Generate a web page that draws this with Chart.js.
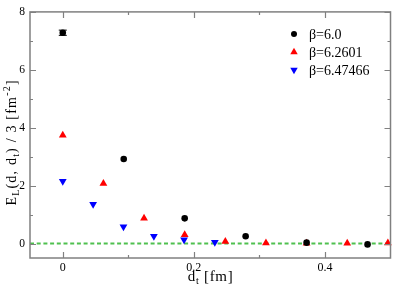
<!DOCTYPE html>
<html><head><meta charset="utf-8">
<script src="https://cdn.jsdelivr.net/npm/chart.js@4/dist/chart.umd.min.js"></script>
<style>html,body{margin:0;padding:0;background:#fff;}</style>
</head><body>
<canvas id="c" width="395" height="289"></canvas>
<script>
// ---- data ----
const seriesLabels = ['β=6.0', 'β=6.2601', 'β=6.47466'];
const blackX = [0, 0.093, 0.186, 0.279, 0.372, 0.465];
const blackY = [7.28, 2.92, 0.87, 0.25, 0.03, -0.03];
const blackErr = [0.09, 0, 0, 0, 0, 0];
const redX = [0, 0.062, 0.124, 0.186, 0.248, 0.310, 0.372, 0.434, 0.496];
const redY = [3.74, 2.07, 0.87, 0.30, 0.07, 0.02, 0.01, 0.01, 0.02];
const blueX = [0, 0.0463, 0.0926, 0.139, 0.185, 0.232];
const blueY = [2.15, 1.36, 0.58, 0.25, 0.13, 0.04];
const zeroLineX = [-0.05, 0.5];
const zeroLineY = [0, 0];
const xTickValues = [0, 0.2, 0.4];
const xMinorValues = [0.1, 0.3];
const yTickValues = [0, 2, 4, 6, 8];
const yMinorValues = [1, 3, 5, 7];
const xRange = [-0.05, 0.5];
const yRange = [-0.5, 8];

const FONT = "'Liberation Serif', 'DejaVu Serif', serif";
const pts = (xs, ys) => xs.map((x, i) => ({x: x, y: ys[i]}));

function shape(ctx, style, rot, r, x, y) {
  ctx.beginPath();
  if (style === 'circle') {
    ctx.arc(x, y, r, 0, Math.PI * 2);
  } else {
    let a = rot * Math.PI / 180;
    for (let k = 0; k < 3; k++) {
      const px = x + Math.sin(a) * r, py = y - Math.cos(a) * r;
      if (k === 0) ctx.moveTo(px, py); else ctx.lineTo(px, py);
      a += 2 * Math.PI / 3;
    }
    ctx.closePath();
  }
  ctx.fill();
}

// draws rich text (sub/superscripts) centred at (cx, baseline cy)
function renderRich(ctx, segs, size, cx, cy, target, maxExtra) {
  const chars = [];
  segs.forEach(s => {
    const fs = (s.sub || s.sup) ? Math.round(size * 0.68) : size;
    const dy = s.sub ? size * 0.22 : (s.sup ? -size * 0.42 : 0);
    for (const ch of s.t) {
      ctx.font = fs + 'px ' + FONT;
      chars.push({ch: ch, fs: fs, dy: dy, w: ctx.measureText(ch).width});
    }
  });
  const natural = chars.reduce((a, c) => a + c.w, 0);
  const extra = target ? Math.min(maxExtra, Math.max(0, (target - natural) / (chars.length - 1))) : 0;
  const total = natural + extra * (chars.length - 1);
  let x = cx - total / 2;
  ctx.fillStyle = '#000';
  ctx.textBaseline = 'alphabetic';
  ctx.textAlign = 'left';
  chars.forEach(c => {
    ctx.font = c.fs + 'px ' + FONT;
    ctx.fillText(c.ch, x, cy + c.dy);
    x += c.w + extra;
  });
}

const framePlugin = {
  id: 'frame',
  afterDatasetsDraw(chart) {
    const ctx = chart.ctx, a = chart.chartArea;
    const xs = chart.scales.x, ys = chart.scales.y;
    ctx.save();
    // error bars
    ctx.strokeStyle = '#000'; ctx.lineWidth = 1;
    blackErr.forEach((e, i) => {
      if (!e) return;
      const px = xs.getPixelForValue(blackX[i]);
      const y1 = ys.getPixelForValue(blackY[i] + e), y2 = ys.getPixelForValue(blackY[i] - e);
      ctx.beginPath();
      ctx.moveTo(px, y1); ctx.lineTo(px, y2);
      ctx.moveTo(px - 4, y1); ctx.lineTo(px + 4, y1);
      ctx.moveTo(px - 4, y2); ctx.lineTo(px + 4, y2);
      ctx.stroke();
    });
    // frame
    ctx.strokeStyle = '#808080'; ctx.lineWidth = 1.5;
    ctx.strokeRect(a.left, a.top, a.right - a.left, a.bottom - a.top);
    ctx.lineWidth = 1.2;
    ctx.beginPath();
    const tx = (vals, len) => vals.forEach(v => {
      const p = Math.round(xs.getPixelForValue(v)) + 0.5;
      ctx.moveTo(p, a.bottom); ctx.lineTo(p, a.bottom - len);
      ctx.moveTo(p, a.top); ctx.lineTo(p, a.top + len);
    });
    const ty = (vals, len) => vals.forEach(v => {
      const p = Math.round(ys.getPixelForValue(v)) + 0.5;
      ctx.moveTo(a.left, p); ctx.lineTo(a.left + len, p);
      ctx.moveTo(a.right, p); ctx.lineTo(a.right - len, p);
    });
    tx(xTickValues, 6); tx(xMinorValues, 3);
    ty(yTickValues, 6); ty(yMinorValues, 3);
    ctx.stroke();

    // legend
    const lx = 294, ly = [34, 52, 70];
    ctx.textAlign = 'left'; ctx.textBaseline = 'middle';
    ctx.font = '14px ' + FONT;
    for (let i = 0; i < 3; i++) {
      const d = chart.data.datasets[i];
      ctx.fillStyle = d.pointBackgroundColor;
      shape(ctx, d.pointStyle, d.pointRotation || 0, d.pointStyle === 'circle' ? 3 : 4.3, lx, ly[i]);
      ctx.fillStyle = '#000';
      ctx.fillText(d.label, 309, ly[i] + 1);
    }

    // axis titles
    renderRich(ctx, [{t: 'd'}, {t: 't', sub: true}, {t: ' [fm]'}], 15, (a.left + a.right) / 2, 281, 45, 0.8);
    ctx.save();
    ctx.translate(16, 143);
    ctx.rotate(-Math.PI / 2);
    renderRich(ctx, [{t: 'E'}, {t: 'L', sub: true}, {t: '(d, d'}, {t: 't', sub: true}, {t: ') / 3 [fm'}, {t: '-2', sup: true}, {t: ']'}], 14, 0, 0, 140, 1.2);
    ctx.restore();
    ctx.restore();
  }
};

new Chart(document.getElementById('c'), {
  type: 'scatter',
  data: {
    datasets: [
      {label: seriesLabels[0], data: pts(blackX, blackY), pointStyle: 'circle', pointRadius: 3.3,
       pointBackgroundColor: '#000000', pointBorderWidth: 0, borderColor: '#000', clip: false, order: 1},
      {label: seriesLabels[1], data: pts(redX, redY), pointStyle: 'triangle', pointRadius: 4.5,
       pointBackgroundColor: '#ff0000', pointBorderWidth: 0, borderColor: '#f00', clip: false, order: 1},
      {label: seriesLabels[2], data: pts(blueX, blueY), pointStyle: 'triangle', pointRotation: 180, pointRadius: 4.5,
       pointBackgroundColor: '#0000ff', pointBorderWidth: 0, borderColor: '#00f', clip: false, order: 1},
      {type: 'line', label: 'zero', data: pts(zeroLineX, zeroLineY), borderColor: '#4fc04f', borderWidth: 2,
       borderDash: [4, 2.7], pointRadius: 0, fill: false, order: 10}
    ]
  },
  options: {
    responsive: false,
    animation: false,
    events: [],
    layout: {padding: {top: 5, right: 3, left: 0, bottom: 0}},
    plugins: {legend: {display: false}, tooltip: {enabled: false}, title: {display: false}},
    scales: {
      x: {
        type: 'linear', min: xRange[0], max: xRange[1],
        grid: {display: false, drawTicks: false}, border: {display: false},
        afterBuildTicks: s => { s.ticks = xTickValues.map(v => ({value: v})); },
        afterFit: s => { s.height = 31; },
        ticks: {padding: 3, color: '#000', font: {family: FONT, size: 12}, maxRotation: 0,
                callback: v => String(v)}
      },
      y: {
        type: 'linear', min: yRange[0], max: yRange[1],
        grid: {display: false, drawTicks: false}, border: {display: false},
        afterBuildTicks: s => { s.ticks = yTickValues.map(v => ({value: v})); },
        afterFit: s => { s.width = 30; },
        ticks: {padding: 5, color: '#000', font: {family: FONT, size: 11.5}, callback: v => String(v)}
      }
    }
  },
  plugins: [framePlugin]
});
</script>
</body></html>
